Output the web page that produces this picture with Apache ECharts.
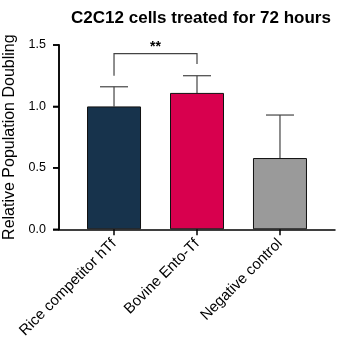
<!DOCTYPE html>
<html><head><meta charset="utf-8">
<script src="https://cdn.jsdelivr.net/npm/echarts@6/dist/echarts.min.js"></script>
<style>html,body{margin:0;padding:0;background:#fff}#c{width:350px;height:345px}</style>
</head><body><div id="c"></div>
<script>
const categories = ["Rice competitor hTf", "Bovine Ento-Tf", "Negative control"];
const means = [1.00, 1.11, 0.58];
const upperErr = [1.16, 1.25, 0.93];
const barColors = ["#17334c", "#d8004e", "#9a9a9a"];
const yTicks = [0, 0.5, 1.0, 1.5];
// significance bracket
const bracketFrom = 0, bracketTo = 1;
const bracketTop = 1.43, bracketLeftEnd = 1.25, bracketRightEnd = 1.345;
const bracketLabel = "**";

const xMin = -0.663, xMax = 2.663;
const chart = echarts.init(document.getElementById('c'), null, {renderer: 'canvas'});
const font = 'Liberation Sans, Arial, sans-serif';
chart.setOption({
  animation: false,
  title: {
    text: 'C2C12 cells treated for 72 hours',
    left: 196, top: 5, textAlign: 'center',
    textStyle: {fontFamily: font, fontSize: 17, fontWeight: 'bold', color: '#000'}
  },
  grid: {left: 59, right: 15, top: 45, bottom: 115.7, outerBoundsMode: 'none'},
  xAxis: {
    type: 'value', min: xMin, max: xMax,
    splitLine: {show: false},
    axisLine: {show: true, onZero: false, lineStyle: {color: '#000', width: 1.5}},
    axisTick: {show: true, customValues: [0, 1, 2], length: 6, lineStyle: {color: '#000', width: 1.5}},
    axisLabel: {
      customValues: [0, 1, 2], rotate: 45, margin: 12,
      fontFamily: font, fontSize: 15, color: '#000',
      formatter: v => categories[Math.round(v)]
    }
  },
  yAxis: {
    type: 'value', min: yTicks[0], max: yTicks[yTicks.length - 1], interval: 0.5,
    name: 'Relative Population Doubling', nameLocation: 'middle', nameGap: 34,
    nameTextStyle: {fontFamily: font, fontSize: 16, color: '#000'},
    splitLine: {show: false},
    axisLine: {show: true, onZero: false, lineStyle: {color: '#000', width: 1.5}},
    axisTick: {show: true, length: 6, lineStyle: {color: '#000', width: 1.5}},
    axisLabel: {fontFamily: font, fontSize: 12.5, color: '#000', margin: 13,
      formatter: v => v.toFixed(1)}
  },
  series: [
    {
      type: 'bar', barWidth: 54,
      data: means.map((m, i) => ({value: [i, m], itemStyle: {color: barColors[i], borderColor: '#111', borderWidth: 1}}))
    },
    {
      type: 'custom',
      data: means.map((m, i) => [i, m, upperErr[i]]),
      encode: {x: 0, y: [1, 2]},
      renderItem: (params, api) => {
        const i = params.dataIndex;
        const p0 = api.coord([i, means[i]]);
        const p1 = api.coord([i, upperErr[i]]);
        const half = 14;
        return {type: 'group', children: [
          {type: 'line', shape: {x1: p0[0], y1: p0[1], x2: p1[0], y2: p1[1]}, style: {stroke: '#444', lineWidth: 1.2}},
          {type: 'line', shape: {x1: p1[0] - half, y1: p1[1], x2: p1[0] + half, y2: p1[1]}, style: {stroke: '#444', lineWidth: 1.2}}
        ]};
      }
    },
    {
      type: 'custom',
      data: [[bracketFrom, bracketTop]],
      renderItem: (params, api) => {
        const a = api.coord([bracketFrom, bracketTop]);
        const b = api.coord([bracketTo, bracketTop]);
        const la = api.coord([bracketFrom, bracketLeftEnd]);
        const lb = api.coord([bracketTo, bracketRightEnd]);
        return {type: 'group', children: [
          {type: 'polyline', shape: {points: [[la[0], la[1]], [a[0], a[1]], [b[0], b[1]], [lb[0], lb[1]]]}, style: {stroke: '#444', lineWidth: 1.2, fill: null}},
          {type: 'text', x: (a[0] + b[0]) / 2, y: a[1] + 1, style: {text: bracketLabel, fontFamily: font, fontSize: 14, fontWeight: 'bold', fill: '#000', align: 'center', verticalAlign: 'bottom'}}
        ]};
      }
    }
  ]
});

// y axis line and outward ticks on a top layer, positioned through the chart's own scales
const yb = chart.convertToPixel({gridIndex: 0}, [xMin, yTicks[0]]);
const yt = chart.convertToPixel({gridIndex: 0}, [xMin, yTicks[yTicks.length - 1]]);
const axisEls = [{type: 'rect', zlevel: 1, z: 100, silent: true,
  shape: {x: yb[0] - 0.75, y: yt[1] - 0.75, width: 1.5, height: yb[1] - yt[1] + 1.5}, style: {fill: '#000'}}];
yTicks.forEach(t => {
  const p = chart.convertToPixel({gridIndex: 0}, [xMin, t]);
  axisEls.push({type: 'rect', zlevel: 1, z: 100, silent: true,
    shape: {x: p[0] - 6, y: p[1] - 0.75, width: 6, height: 1.5}, style: {fill: '#000'}});
});
chart.setOption({graphic: {elements: axisEls}});
</script></body></html>
